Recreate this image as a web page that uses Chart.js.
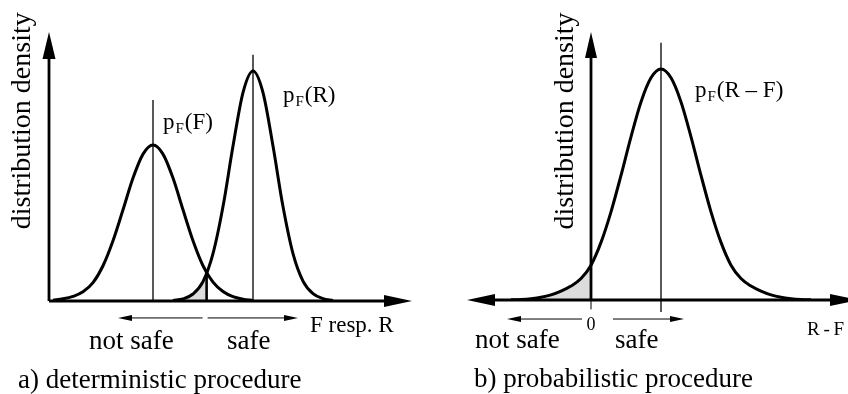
<!DOCTYPE html>
<html>
<head>
<meta charset="utf-8">
<script src="https://cdn.jsdelivr.net/npm/chart.js"></script>
<style>
  html, body { margin: 0; padding: 0; background: #fff; }
  #wrap { position: relative; width: 848px; height: 394px; overflow: hidden; }
  canvas { position: absolute; top: 0; }
  #chartA { left: 0; }
  #chartB { left: 424px; }
</style>
</head>
<body>
<div id="wrap">
  <canvas id="chartA" width="424" height="394"></canvas>
  <canvas id="chartB" width="424" height="394"></canvas>
</div>
<script>
// a) load F and resistance R
let fX = [0, 0.5, 1, 1.5, 2, 2.5, 3, 3.5, 4, 4.5, 5, 5.5, 6, 6.5, 7, 7.5, 8, 8.5, 9, 9.5, 10];
let fY = [0.003, 0.008, 0.017, 0.034, 0.068, 0.131, 0.224, 0.339, 0.457, 0.546, 0.58, 0.546, 0.457, 0.339, 0.224, 0.131, 0.07, 0.035, 0.016, 0.007, 0.002];
let rX = [6, 6.5, 7, 7.5, 8, 8.5, 9, 9.5, 10, 10.5, 11, 11.5, 12, 12.5, 13, 13.5, 14];
let rY = [0.002, 0.008, 0.026, 0.072, 0.176, 0.351, 0.576, 0.775, 0.855, 0.775, 0.576, 0.351, 0.176, 0.074, 0.027, 0.009, 0.002];
let meanF = 5, topF = 0.747;
let meanR = 10, topR = 0.915;
let limitX = 7.68, limitY = 0.104;

// b) safety margin R - F
let dX = [-4, -3.5, -3, -2.5, -2, -1.5, -1, -0.5, 0, 0.5, 1, 1.5, 2, 2.5, 3, 3.5, 4, 4.5, 5, 5.5, 6, 6.5, 7, 7.5, 8, 8.5, 9, 9.5, 10, 10.5, 11];
let dY = [0.0005, 0.002, 0.005, 0.01, 0.019, 0.033, 0.052, 0.08, 0.13, 0.215, 0.329, 0.465, 0.609, 0.739, 0.829, 0.862, 0.829, 0.739, 0.609, 0.465, 0.329, 0.215, 0.13, 0.08, 0.052, 0.033, 0.019, 0.01, 0.005, 0.002, 0.0005];
let meanD = 3.5, topD = 0.96;

const FONT = '"Liberation Serif", "Times New Roman", serif';

function pts(xs, ys){
    return xs.map((x, i) => ({x: x, y: ys[i]}));
}

function head(ctx, x1, y1, x2, y2, len, half){
    // filled arrow head with its tip at (x2,y2)
    let a = Math.atan2(y2 - y1, x2 - x1);
    ctx.beginPath();
    ctx.moveTo(x2, y2);
    ctx.lineTo(x2 - len*Math.cos(a) + half*Math.sin(a), y2 - len*Math.sin(a) - half*Math.cos(a));
    ctx.lineTo(x2 - len*Math.cos(a) - half*Math.sin(a), y2 - len*Math.sin(a) + half*Math.cos(a));
    ctx.closePath();
    ctx.fill();
}

function arrow(ctx, p1, p2, lw, len, half){
    let a = Math.atan2(p2[1] - p1[1], p2[0] - p1[0]);
    ctx.lineWidth = lw;
    ctx.beginPath();
    ctx.moveTo(p1[0], p1[1]);
    ctx.lineTo(p2[0] - (len - 1)*Math.cos(a), p2[1] - (len - 1)*Math.sin(a));
    ctx.stroke();
    head(ctx, p1[0], p1[1], p2[0], p2[1], len, half);
}

function text(ctx, s, p, size, align){
    ctx.font = size + 'px ' + FONT;
    ctx.textAlign = align || 'left';
    ctx.textBaseline = 'alphabetic';
    ctx.fillText(s, p[0], p[1]);
}

function vtext(ctx, s, p, size){
    ctx.save();
    ctx.translate(p[0], p[1]);
    ctx.rotate(-Math.PI/2);
    text(ctx, s, [0, 0], size, 'center');
    ctx.restore();
}

function subLabel(ctx, rest, p){
    ctx.font = '23px ' + FONT;
    ctx.textAlign = 'left';
    ctx.fillText('p', p[0], p[1]);
    let w = ctx.measureText('p').width;
    ctx.font = '15px ' + FONT;
    ctx.fillText('F', p[0] + w + 1, p[1] + 4);
    let w2 = ctx.measureText('F').width;
    ctx.font = '23px ' + FONT;
    ctx.fillText(rest, p[0] + w + w2 + 2, p[1]);
}

function baseOptions(pad, xmin, xmax){
    return {
        responsive: false,
        animation: false,
        devicePixelRatio: 1,
        layout: {padding: pad},
        plugins: {legend: {display: false}, tooltip: {enabled: false}},
        elements: {
            point: {radius: 0, hoverRadius: 0},
            line: {borderColor: '#000', cubicInterpolationMode: 'monotone', fill: false}
        },
        scales: {
            x: {type: 'linear', min: xmin, max: xmax, display: false},
            y: {type: 'linear', min: 0, max: 1, display: false}
        }
    };
}

// ---------- a) deterministic procedure ----------
let shadeA = pts(rX.filter(x => x < limitX), rY.filter((y, i) => rX[i] < limitX));
shadeA.push({x: limitX, y: limitY});

let G1 = new Chart(document.getElementById('chartA').getContext('2d'), {
    type: 'line',
    data: {
        datasets: [
            {data: pts(fX, fY), borderWidth: 3},
            {data: pts(rX, rY), borderWidth: 3},
            {data: [{x: meanF, y: 0}, {x: meanF, y: topF}], borderWidth: 1.3, cubicInterpolationMode: 'default', tension: 0},
            {data: [{x: meanR, y: 0}, {x: meanR, y: topR}], borderWidth: 1.3, cubicInterpolationMode: 'default', tension: 0},
            {data: [{x: limitX, y: 0}, {x: limitX, y: limitY}], borderWidth: 2.6, cubicInterpolationMode: 'default', tension: 0},
            {data: shadeA, borderWidth: 0, fill: 'origin', backgroundColor: '#dcdcdc'}
        ]
    },
    options: baseOptions({left: 49, right: 12, top: 32, bottom: 93}, -0.2, 17.95),
    plugins: [{
        id: 'decorA',
        afterDatasetsDraw(chart){
            let ctx = chart.ctx, sx = chart.scales.x, sy = chart.scales.y;
            let P = (a, b) => [sx.getPixelForValue(a), sy.getPixelForValue(b)];
            ctx.save();
            ctx.fillStyle = '#000';
            ctx.strokeStyle = '#000';
            arrow(ctx, P(-0.2, 0), P(-0.2, 1), 2.8, 27, 6.5);
            arrow(ctx, P(-0.2, 0), P(17.95, 0), 2.8, 28, 6);
            arrow(ctx, P(limitX - 0.2, -0.063), P(3.25, -0.063), 1, 14, 3);
            arrow(ctx, P(limitX + 0.05, -0.063), P(12.25, -0.063), 1, 14, 3);
            subLabel(ctx, '(F)', P(5.5, 0.64));
            subLabel(ctx, '(R)', P(11.5, 0.74));
            text(ctx, 'F resp. R', P(12.85, -0.115), 23);
            text(ctx, 'not safe', P(1.8, -0.178), 27);
            text(ctx, 'safe', P(8.7, -0.178), 27);
            text(ctx, 'a) deterministic procedure', P(-1.75, -0.323), 27);
            vtext(ctx, 'distribution density', P(-1.15, 0.67), 28);
            ctx.restore();
        }
    }]
});

// ---------- b) probabilistic procedure ----------
let shadeB = pts(dX.filter(x => x <= 0), dY.filter((y, i) => dX[i] <= 0));

let G2 = new Chart(document.getElementById('chartB').getContext('2d'), {
    type: 'line',
    data: {
        datasets: [
            {data: pts(dX, dY), borderWidth: 3},
            {data: [{x: meanD, y: -0.045}, {x: meanD, y: topD}], borderWidth: 1.3, clip: false, cubicInterpolationMode: 'default', tension: 0},
            {data: [{x: 0, y: -0.035}, {x: 0, y: 0}], borderWidth: 1, clip: false, cubicInterpolationMode: 'default', tension: 0},
            {data: shadeB, borderWidth: 0, fill: 'origin', backgroundColor: '#dcdcdc'}
        ]
    },
    options: baseOptions({left: 43, right: 0, top: 32, bottom: 94}, -6.2, 12.85),
    plugins: [{
        id: 'decorB',
        afterDatasetsDraw(chart){
            let ctx = chart.ctx, sx = chart.scales.x, sy = chart.scales.y;
            let P = (a, b) => [sx.getPixelForValue(a), sy.getPixelForValue(b)];
            ctx.save();
            ctx.fillStyle = '#000';
            ctx.strokeStyle = '#000';
            arrow(ctx, P(0, 0), P(0, 1), 2.8, 26, 6);
            arrow(ctx, P(0, 0), P(-6.2, 0), 2.8, 28, 6);
            arrow(ctx, P(0, 0), P(13.35, 0), 2.8, 28, 6);
            arrow(ctx, P(-0.45, -0.071), P(-4.2, -0.071), 1, 14, 3);
            arrow(ctx, P(1.1, -0.071), P(4.65, -0.071), 1, 14, 3);
            subLabel(ctx, '(R \u2013 F)', P(5.2, 0.757));
            text(ctx, '0', P(0, -0.112), 18, 'center');
            text(ctx, 'R\u2009-\u2009F', P(10.8, -0.13), 19);
            text(ctx, 'not safe', P(-5.8, -0.179), 27);
            text(ctx, 'safe', P(1.2, -0.179), 27);
            text(ctx, 'b) probabilistic procedure', P(-5.85, -0.325), 27);
            vtext(ctx, 'distribution density', P(-0.9, 0.668), 28);
            ctx.restore();
        }
    }]
});
</script>
</body>
</html>
